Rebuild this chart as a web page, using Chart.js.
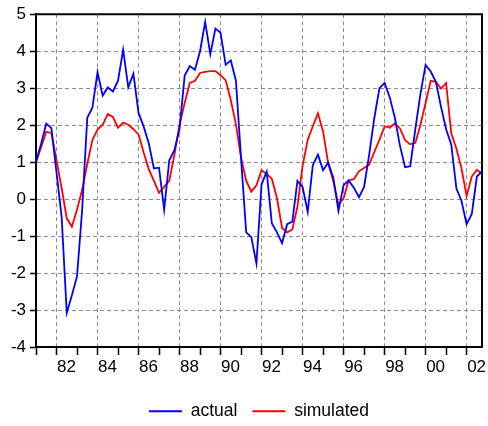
<!DOCTYPE html>
<html lang="en">
<head>
  <meta charset="UTF-8" />
  <title>actual vs simulated</title>
  <script src="https://cdn.jsdelivr.net/npm/chart.js"></script>
  <style>
    html, body { margin: 0; padding: 0; background: #fff; }
    canvas { display: block; }
  </style>
</head>
<body>
  <canvas id="simChart" width="488" height="426"></canvas>

  <script>
    // quarterly sample 1981Q1 - 2002Q4
    const firstYear = 1981;
    const lastYear = 2002;
    const quarters = [];
    for (let y = firstYear; y <= lastYear; y++) {
      for (let q = 1; q <= 4; q++) quarters.push(y + 'Q' + q);
    }

    const actual = [
      1.0, 1.5, 2.04, 1.92, 0.72, -0.48, -3.08, -2.6, -2.09, -0.3,
      2.2, 2.47, 3.43, 2.8, 3.02, 2.91, 3.2, 4.04, 3.02, 3.39,
      2.33, 1.96, 1.51, 0.83, 0.85, -0.29, 1.05, 1.32, 1.9, 3.34,
      3.6, 3.5, 4.0, 4.79, 3.92, 4.61, 4.5, 3.63, 3.75, 3.2,
      1.1, -0.9, -1.03, -1.74, 0.4, 0.74, -0.65, -0.9, -1.19, -0.68,
      -0.61, 0.49, 0.33, -0.35, 0.92, 1.2, 0.78, 0.99, 0.57, -0.32,
      0.38, 0.5, 0.31, 0.05, 0.33, 1.21, 2.2, 3.0, 3.14, 2.75,
      2.2, 1.44, 0.86, 0.89, 1.9, 2.85, 3.63, 3.45, 3.17, 2.5,
      1.89, 1.48, 0.29, -0.05, -0.68, -0.41, 0.61, 0.75
    ];

    const simulated = [
      1.0, 1.4, 1.82, 1.79, 1.05, 0.3, -0.52, -0.75, -0.28, 0.25,
      0.95, 1.6, 1.88, 2.01, 2.3, 2.22, 1.93, 2.07, 2.01, 1.89,
      1.75, 1.26, 0.81, 0.49, 0.17, 0.33, 0.5, 1.2, 2.01, 2.6,
      3.14, 3.2, 3.41, 3.44, 3.46, 3.46, 3.35, 3.21, 2.68, 2.02,
      1.12, 0.5, 0.2, 0.37, 0.78, 0.68, 0.55, 0.03, -0.78, -0.9,
      -0.82, -0.2, 0.9, 1.6, 1.97, 2.32, 1.83, 0.96, 0.48, -0.15,
      0.02, 0.51, 0.54, 0.75, 0.84, 0.93, 1.28, 1.6, 1.97, 1.93,
      2.05, 1.91, 1.59, 1.48, 1.52, 2.01, 2.6, 3.2, 3.17, 2.99,
      3.14, 1.78, 1.37, 0.83, 0.08, 0.61, 0.79, 0.68
    ];

    const yTicks = [-4, -3, -2, -1, 0, 1, 2, 3, 4, 5];

    const FAMILY = '"Liberation Sans", Arial, sans-serif';
    const TICK_FONT = { family: FAMILY, size: 17 };
    const LEGEND_FONT = { family: FAMILY, size: 17.5 };
    const GRID = '#8c8c8c';

    // closes the box on top and right
    const frame = {
      id: 'frame',
      afterDraw(chart) {
        const { ctx, chartArea: a } = chart;
        ctx.save();
        ctx.strokeStyle = '#000';
        ctx.lineWidth = 2;
        ctx.beginPath();
        ctx.moveTo(a.left, a.top);
        ctx.lineTo(a.right, a.top);
        ctx.lineTo(a.right, a.bottom);
        ctx.stroke();
        ctx.restore();
      }
    };

    const ctx = document.getElementById('simChart').getContext('2d');

    new Chart(ctx, {
      type: 'line',
      data: {
        labels: quarters,
        datasets: [
          {
            label: 'actual',
            data: actual,
            borderColor: '#0000ff',
            borderWidth: 1.8,
            pointRadius: 0,
            tension: 0,
            fill: false
          },
          {
            label: 'simulated',
            data: simulated,
            borderColor: '#ff0000',
            borderWidth: 1.8,
            pointRadius: 0,
            tension: 0,
            fill: false
          }
        ]
      },
      options: {
        responsive: false,
        animation: false,
        layout: { padding: { top: 14, right: 6, left: 0, bottom: -4 } },
        plugins: {
          tooltip: { enabled: false },
          legend: {
            position: 'bottom',
            fullSize: false,
            labels: {
              font: LEGEND_FONT,
              color: '#000',
              boxWidth: 33,
              boxHeight: 2,
              padding: 15,
              generateLabels: chart => chart.data.datasets.map((d, i) => ({
                text: d.label,
                fillStyle: d.borderColor,
                strokeStyle: d.borderColor,
                lineWidth: 0,
                hidden: false,
                datasetIndex: i
              }))
            }
          }
        },
        scales: {
          x: {
            type: 'category',
            offset: false,
            afterBuildTicks: scale => {
              scale.ticks = scale.ticks.filter(t => t.value % 4 === 0);
            },
            afterFit: scale => { scale.height = 40.5; },
            ticks: {
              autoSkip: false,
              maxRotation: 0,
              minRotation: 0,
              labelOffset: 10,
              padding: 2,
              font: TICK_FONT,
              color: '#000',
              callback: function (value) {
                const lab = this.getLabelForValue(value);
                const yr = parseInt(lab.slice(0, 4), 10);
                return yr % 2 === 0 ? lab.slice(2, 4) : '';
              }
            },
            grid: {
              drawOnChartArea: true,
              color: c => (c.tick && c.tick.value % 8 === 4) ? GRID : 'rgba(0,0,0,0)',
              lineWidth: 1,
              tickColor: '#000',
              tickLength: 8,
              tickWidth: 1.5
            },
            border: { color: '#000', width: 2, dash: [4, 3] }
          },
          y: {
            min: -4,
            max: 5,
            afterBuildTicks: scale => {
              scale.ticks = yTicks.map(v => ({ value: v }));
            },
            afterFit: scale => { scale.width = 36; },
            ticks: {
              padding: 4,
              font: TICK_FONT,
              color: '#000'
            },
            grid: {
              color: c => (c.tick && (c.tick.value === -4 || c.tick.value === 5)) ? 'rgba(0,0,0,0)' : GRID,
              lineWidth: 1,
              tickColor: '#000',
              tickLength: 6,
              tickWidth: 1.5
            },
            border: { color: '#000', width: 2, dash: [4, 3] }
          }
        }
      },
      plugins: [frame]
    });
  </script>
</body>
</html>
